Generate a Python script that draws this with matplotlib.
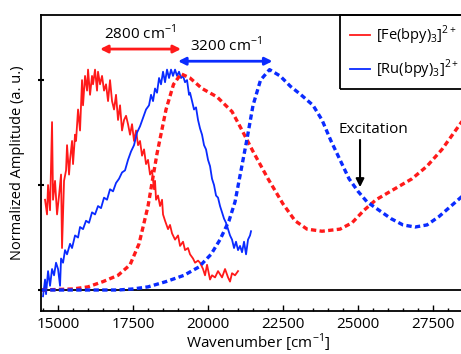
import matplotlib
matplotlib.use("Agg")
import matplotlib.pyplot as plt
from matplotlib.patches import Rectangle
from matplotlib.ticker import MultipleLocator

plt.rcParams["font.family"] = ["Open Sans", "DejaVu Sans"]
plt.rcParams["mathtext.fontset"] = "custom"
plt.rcParams["mathtext.rm"] = "Open Sans"

# Fe emission (noisy solid red)
fe_em_x = [14567, 14633, 14667, 14733, 14800, 14833, 14900, 14967, 15033, 15100,
           15133, 15200, 15267, 15300, 15367, 15400, 15467, 15500, 15567, 15600,
           15667, 15733, 15800, 15833, 15900, 15967, 16000, 16067, 16133, 16167,
           16233, 16300, 16333, 16400, 16467, 16533, 16600, 16667, 16733, 16800,
           16867, 16933, 17000, 17067, 17133, 17200, 17267, 17333, 17400, 17467,
           17533, 17600, 17667, 17733, 17800, 17867, 17933, 18000, 18067, 18133,
           18200, 18233, 18267, 18333, 18400, 18467, 18500, 18567, 18667, 18733,
           18800, 18900, 19000, 19067, 19167, 19233, 19333, 19400, 19500, 19567,
           19667, 19733, 19833, 19900, 19967, 20067, 20133, 20233, 20333, 20467,
           20567, 20667, 20733, 20800, 20900, 21000]
fe_em_y = [0.43, 0.36, 0.50, 0.38, 0.80, 0.43, 0.52, 0.36, 0.45, 0.55,
           0.20, 0.52, 0.57, 0.69, 0.55, 0.62, 0.71, 0.60, 0.74, 0.71,
           0.86, 0.76, 1.00, 0.88, 1.02, 0.95, 1.05, 0.93, 1.02, 0.98,
           1.05, 0.95, 1.04, 0.98, 1.02, 0.95, 0.98, 0.90, 1.00, 0.90,
           0.86, 0.93, 0.81, 0.88, 0.76, 0.81, 0.83, 0.79, 0.74, 0.79,
           0.71, 0.76, 0.69, 0.71, 0.64, 0.67, 0.60, 0.62, 0.55, 0.57,
           0.48, 0.52, 0.43, 0.45, 0.40, 0.43, 0.36, 0.33, 0.29, 0.31,
           0.27, 0.24, 0.26, 0.21, 0.23, 0.19, 0.20, 0.17, 0.15, 0.13,
           0.14, 0.13, 0.10, 0.07, 0.12, 0.05, 0.07, 0.06, 0.09, 0.06,
           0.10, 0.06, 0.04, 0.08, 0.07, 0.09]

# Ru emission (noisy solid blue)
ru_em_x = [14500, 14567, 14600, 14667, 14733, 14800, 14867, 14933, 15000, 15067,
           15100, 15167, 15233, 15300, 15400, 15467, 15567, 15667, 15733, 15833,
           15933, 16033, 16133, 16233, 16333, 16433, 16533, 16633, 16733, 16833,
           16933, 17033, 17133, 17233, 17333, 17433, 17533, 17633, 17733, 17833,
           17933, 18033, 18100, 18167, 18233, 18300, 18367, 18433, 18500, 18567,
           18633, 18700, 18767, 18833, 18900, 18967, 19033, 19100, 19167, 19233,
           19300, 19367, 19400, 19467, 19533, 19600, 19667, 19733, 19800, 19867,
           19933, 20000, 20067, 20133, 20200, 20267, 20333, 20400, 20467, 20533,
           20600, 20667, 20733, 20800, 20867, 20933, 21000, 21067, 21133, 21200,
           21267, 21333, 21400, 21433]
ru_em_y = [-0.03, 0.05, -0.02, 0.09, 0.02, 0.10, 0.07, 0.13, 0.10, 0.02,
           0.15, 0.13, 0.19, 0.17, 0.22, 0.20, 0.26, 0.25, 0.30, 0.29,
           0.33, 0.32, 0.37, 0.36, 0.40, 0.39, 0.44, 0.43, 0.48, 0.47,
           0.51, 0.53, 0.56, 0.57, 0.62, 0.66, 0.69, 0.75, 0.78, 0.82,
           0.86, 0.88, 0.93, 0.90, 0.96, 0.94, 1.01, 0.98, 1.04, 0.99,
           1.05, 1.01, 1.05, 1.02, 1.05, 1.02, 1.04, 1.01, 1.02, 0.99,
           1.00, 0.93, 0.94, 0.90, 0.86, 0.87, 0.81, 0.77, 0.74, 0.69,
           0.67, 0.62, 0.59, 0.53, 0.50, 0.45, 0.44, 0.40, 0.37, 0.34,
           0.32, 0.29, 0.26, 0.24, 0.20, 0.23, 0.19, 0.21, 0.18, 0.23,
           0.17, 0.24, 0.26, 0.28]

# Fe absorption (dotted red)
fe_abs_x = [14450, 15500, 16000, 16500, 17000, 17400, 17700, 18000, 18300, 18600,
            18850, 19100, 19400, 19800, 20300, 20800, 21100, 21500, 22000, 22500,
            22900, 23300, 23800, 24400, 24800, 25200, 25600, 26200, 26800, 27300,
            27800, 28200, 28600]
fe_abs_y = [0.0, 0.005, 0.015, 0.04, 0.07, 0.12, 0.22, 0.40, 0.65, 0.86,
            0.98, 1.03, 1.01, 0.96, 0.92, 0.85, 0.77, 0.66, 0.53, 0.41,
            0.33, 0.29, 0.28, 0.29, 0.32, 0.38, 0.43, 0.48, 0.53, 0.59,
            0.67, 0.75, 0.83]

# Ru absorption (dotted blue)
ru_abs_x = [14450, 17000, 17500, 18000, 18600, 19200, 19700, 20100, 20400, 20700,
            20900, 21100, 21300, 21500, 21750, 22050, 22400, 22750, 23100, 23500,
            23800, 24100, 24400, 24700, 25000, 25300, 25700, 26100, 26500, 26900,
            27300, 27700, 28100, 28500]
ru_abs_y = [0.0, 0.0, 0.005, 0.015, 0.04, 0.07, 0.11, 0.17, 0.24, 0.33,
            0.42, 0.57, 0.72, 0.88, 1.0, 1.05, 1.02, 0.97, 0.93, 0.88,
            0.81, 0.71, 0.62, 0.53, 0.47, 0.42, 0.38, 0.34, 0.31, 0.30,
            0.31, 0.35, 0.40, 0.45]

RED = "#ff1a1a"
BLUE = "#0a2bff"

fig = plt.figure(figsize=(4.61, 3.54), dpi=100)
ax = fig.add_axes([0.089, 0.1215, 0.9414, 0.836])

dots = (0, (1.6, 1.0))
ax.axhline(0, color="black", lw=1.3, zorder=1)
ax.plot(fe_em_x, fe_em_y, color=RED, lw=1.3, label=r"[Fe(bpy)$_3$]$^{2+}$")
ax.plot(ru_em_x, ru_em_y, color=BLUE, lw=1.3, label=r"[Ru(bpy)$_3$]$^{2+}$")
ax.plot(fe_abs_x, fe_abs_y, color=RED, lw=2.4, linestyle=dots)
ax.plot(ru_abs_x, ru_abs_y, color=BLUE, lw=2.4, linestyle=dots)

# shift arrows
ax.annotate("", xy=(16400, 1.148), xytext=(19100, 1.148),
            arrowprops=dict(arrowstyle="<|-|>", color=RED, lw=2, mutation_scale=11,
                            shrinkA=0, shrinkB=0))
ax.text(17750, 1.225, r"2800 cm$^{-1}$", ha="center", va="center", fontsize=11)
ax.annotate("", xy=(19000, 1.09), xytext=(22150, 1.09),
            arrowprops=dict(arrowstyle="<|-|>", color=BLUE, lw=2, mutation_scale=11,
                            shrinkA=0, shrinkB=0))
ax.text(20600, 1.165, r"3200 cm$^{-1}$", ha="center", va="center", fontsize=11)

ax.annotate("", xy=(25067, 0.49), xytext=(25067, 0.715),
            arrowprops=dict(arrowstyle="-|>", color="black", lw=1.5, mutation_scale=12,
                            shrinkA=0, shrinkB=0))
ax.text(25500, 0.765, "Excitation", ha="center", va="center", fontsize=11)

ax.set_xlim(14433, 28900)
ax.set_ylim(-0.1, 1.31)
ax.xaxis.set_major_locator(MultipleLocator(2500))
ax.xaxis.set_minor_locator(MultipleLocator(500))
ax.set_yticks([0, 0.5, 1.0])
ax.set_yticklabels([])
ax.tick_params(axis="x", which="major", direction="in", length=4, width=1,
               labelsize=11, pad=4)
ax.tick_params(axis="x", which="minor", direction="in", length=2.5, width=1)
ax.tick_params(axis="y", direction="inout", length=4, width=1.5)
for s in ax.spines.values():
    s.set_linewidth(1.3)

ax.set_xlabel(r"Wavenumber [cm$^{-1}$]", fontsize=11, labelpad=0)
ax.set_ylabel("Normalized Amplitude (a. u.)", fontsize=10.5, labelpad=6)

# legend box runs past the right edge of the picture, as in the original
ax.add_patch(Rectangle((0.689, 0.75), 0.5, 0.25, transform=ax.transAxes,
                       fill=False, edgecolor="black", lw=1.3, clip_on=False, zorder=5))
leg = ax.legend(loc="upper left", bbox_to_anchor=(0.695, 0.995), fontsize=10.5,
                frameon=False, handlelength=1.4, borderpad=0.5, labelspacing=0.75,
                handletextpad=0.4, borderaxespad=0)

fig.savefig("out.png", dpi=100)
